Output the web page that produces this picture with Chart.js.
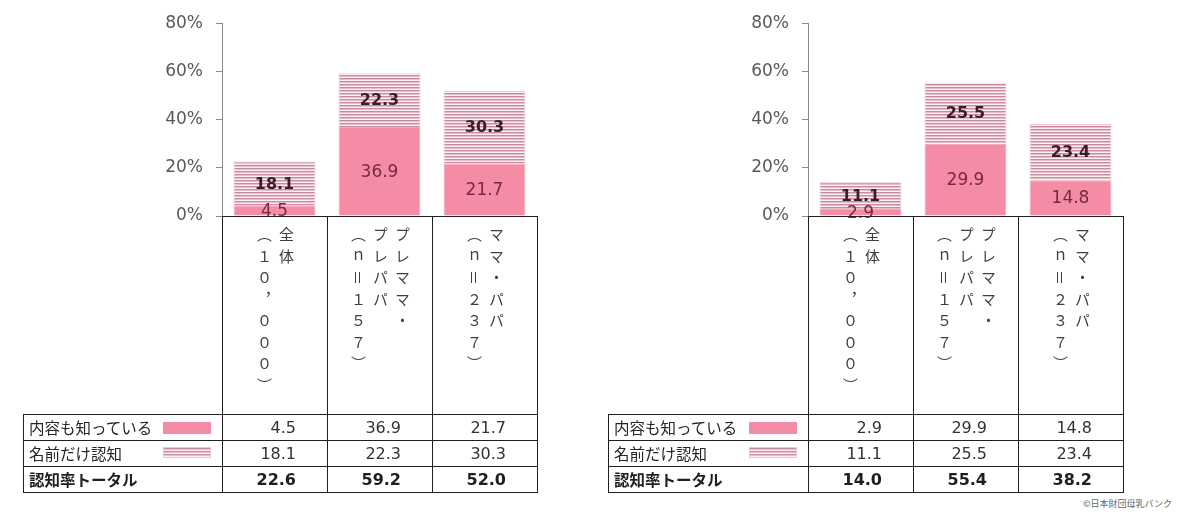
<!DOCTYPE html>
<html lang="ja">
<head>
<meta charset="UTF-8">
<title>認知率</title>
<script src="https://cdn.jsdelivr.net/npm/chart.js"></script>
<style>
    body { margin: 0; width: 1198px; height: 516px; background: #fff; position: relative; overflow: hidden;
           font-family: "DejaVu Sans", sans-serif; color: #2b2b2b; }
    canvas { position: absolute; top: 0; }
    .cell { position: absolute; box-sizing: border-box; border: 1px solid #1f1f1f; }
    .cat { display: flex; justify-content: center; align-items: flex-start; padding-top: 10px; }
    .cat div { writing-mode: vertical-rl; font-family: "Noto Sans CJK JP", sans-serif; font-size: 15px;
               line-height: 22px; letter-spacing: 6.5px; color: #3f3f3f; }
    .lab { font-family: "Noto Sans CJK JP", sans-serif; font-size: 15.5px; line-height: 24px; padding-left: 5px; color: #262626; }
    .val { font-size: 16px; line-height: 25px; text-align: right; padding-right: 31px; color: #333; }
    .bold { font-weight: bold; color: #1f1f1f; }
    .sw { position: absolute; width: 48px; }
    .solid { height: 12px; background: #f48ca5; }
    .striped { height: 11px; background: repeating-linear-gradient(to bottom, #c98a9e 0 1px, #e6bfcc 1px 2px, #fcf0f4 2px 3px); border: 1px solid #f2c4d0; box-sizing: border-box; }
    #credit { position: absolute; left: 1083px; top: 497px; font-family: "Noto Sans CJK JP", sans-serif; font-size: 9px; color: #666; }
</style>
</head>
<body>

<canvas id="leftChart" width="420" height="240" style="left:130px"></canvas>
<canvas id="rightChart" width="420" height="240" style="left:716px"></canvas>
<div id="credit">©日本財団母乳バンク</div>

<script>
    // data
    const categories = [
        ['全体', '（１０，０００）'],
        ['プレママ・', 'プレパパ', '（ｎ＝１５７）'],
        ['ママ・パパ', '（ｎ＝２３７）']
    ];
    const seriesNames = ['内容も知っている', '名前だけ認知'];
    const totalName = '認知率トータル';
    const leftKnowContent = [4.5, 36.9, 21.7];
    const leftNameOnly = [18.1, 22.3, 30.3];
    const rightKnowContent = [2.9, 29.9, 14.8];
    const rightNameOnly = [11.1, 25.5, 23.4];
    const yTicks = [0, 20, 40, 60, 80];

    const pink = '#f48ca5';

    function stripes() {
        const c = document.createElement('canvas');
        c.width = 4; c.height = 3;
        const g = c.getContext('2d');
        g.fillStyle = '#fcf0f4';
        g.fillRect(0, 0, 4, 3);
        g.fillStyle = '#c98a9e';
        g.fillRect(0, 0, 4, 1);
        g.fillStyle = '#e6bfcc';
        g.fillRect(0, 1, 4, 1);
        return g.createPattern(c, 'repeat');
    }

    // numbers inside the bars
    const valueLabels = {
        id: 'valueLabels',
        afterDatasetsDraw(chart) {
            const ctx = chart.ctx;
            chart.data.datasets.forEach((ds, i) => {
                chart.getDatasetMeta(i).data.forEach((bar, j) => {
                    ctx.save();
                    ctx.font = i === 0 ? '17px "DejaVu Sans"' : 'bold 16px "DejaVu Sans"';
                    ctx.fillStyle = i === 0 ? '#7a2841' : '#3a1e2a';
                    ctx.textAlign = 'center';
                    ctx.textBaseline = 'middle';
                    ctx.fillText(ds.data[j].toFixed(1), bar.x, (bar.y + bar.base) / 2 + 1);
                    ctx.restore();
                });
            });
        }
    };

    function makeChart(id, know, name) {
        return new Chart(document.getElementById(id).getContext('2d'), {
            type: 'bar',
            data: {
                labels: categories.map(c => c.join('')),
                datasets: [
                    { label: seriesNames[0], data: know, backgroundColor: pink,
                      borderColor: '#f7a9bb', borderWidth: 1 },
                    { label: seriesNames[1], data: name, backgroundColor: stripes(),
                      borderColor: '#efc3cf', borderWidth: 1 }
                ]
            },
            options: {
                responsive: false,
                animation: false,
                barPercentage: 0.78,
                categoryPercentage: 1,
                layout: { padding: { top: 22, right: 13, bottom: 24, left: 0 } },
                plugins: { legend: { display: false }, tooltip: { enabled: false } },
                scales: {
                    x: { stacked: true, display: false },
                    y: {
                        stacked: true, min: yTicks[0], max: yTicks[yTicks.length - 1],
                        afterFit: s => { s.width = 92; },
                        afterBuildTicks: s => { s.ticks = yTicks.map(v => ({ value: v })); },
                        ticks: { callback: v => v + '%', color: '#595959', padding: 13,
                                 font: { family: 'DejaVu Sans', size: 17 } },
                        grid: { drawOnChartArea: false, tickLength: 6, color: '#8a8a8a' },
                        border: { display: true, color: '#8a8a8a' }
                    }
                }
            },
            plugins: [valueLabels]
        });
    }

    makeChart('leftChart', leftKnowContent, leftNameOnly);
    makeChart('rightChart', rightKnowContent, rightNameOnly);

    // table under each chart
    function cell(x, y, w, h, cls, html) {
        const d = document.createElement('div');
        d.className = 'cell ' + cls;
        d.style.left = x + 'px'; d.style.top = y + 'px';
        d.style.width = w + 'px'; d.style.height = h + 'px';
        d.innerHTML = html;
        document.body.appendChild(d);
        return d;
    }

    function buildTable(x0, xa, know, name) {
        const colW = 105;
        categories.forEach((c, j) => {
            cell(xa + j * colW, 216, colW + 1, 199, 'cat', '<div>' + c.join('<br>') + '</div>');
        });
        const rows = [
            { label: seriesNames[0], vals: know.map(v => v.toFixed(1)), bold: false },
            { label: seriesNames[1], vals: name.map(v => v.toFixed(1)), bold: false },
            { label: totalName, vals: know.map((v, j) => (v + name[j]).toFixed(1)), bold: true }
        ];
        rows.forEach((r, i) => {
            const y = 414 + i * 26;
            const lab = cell(x0, y, xa - x0 + 1, 27, 'lab' + (r.bold ? ' bold' : ''), r.label);
            if (i < 2) {
                const sw = document.createElement('div');
                sw.className = 'sw ' + (i === 0 ? 'solid' : 'striped');
                sw.style.left = (xa - x0 - 60) + 'px';
                sw.style.top = (i === 0 ? 7 : 6) + 'px';
                lab.appendChild(sw);
            }
            r.vals.forEach((v, j) => {
                cell(xa + j * colW, y, colW + 1, 27, 'val' + (r.bold ? ' bold' : ''), v);
            });
        });
    }

    buildTable(23, 222, leftKnowContent, leftNameOnly);
    buildTable(608, 808, rightKnowContent, rightNameOnly);
</script>
</body>
</html>
